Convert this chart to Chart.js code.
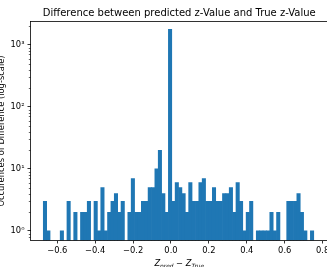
<!DOCTYPE html>
<html>
<head>
<meta charset="utf-8">
<script src="https://cdn.jsdelivr.net/npm/chart.js@4.4.0/dist/chart.umd.min.js"></script>
<style>
  html, body { margin: 0; padding: 0; overflow: hidden; background: #fff; }
  #wrap { position: absolute; left: 0; top: 0; width: 329px; height: 267px; }
</style>
</head>
<body>
<div id="wrap"><canvas id="hist" width="329" height="267"></canvas></div>
<script>
// histogram bins (80 equal bins)
const binStart = -0.6739;
const binWidth = 0.01784;
const counts = [
  3, 1, 0, 0, 0, 1, 0, 3, 0, 2,
  0, 2, 2, 3, 0, 3, 1, 5, 1, 2,
  3, 4, 2, 3, 0, 2, 7, 2, 2, 3,
  3, 5, 5, 10, 20, 4, 2, 1790, 3, 6,
  5, 4, 2, 6, 3, 3, 6, 7, 3, 3,
  5, 3, 3, 4, 4, 5, 2, 6, 3, 1,
  2, 3, 0, 1, 1, 1, 1, 2, 1, 2,
  0, 0, 3, 3, 3, 4, 2, 1, 0, 1
];

const xTicks = [-0.6, -0.4, -0.2, 0, 0.2, 0.4, 0.6, 0.8];
const yTicks = [1, 10, 100, 1000];
const yTickLabels = ["10⁰", "10¹", "10²", "10³"];
const yMinorTicks = [0.8, 0.9, 2, 3, 4, 5, 6, 7, 8, 9, 20, 30, 40, 50, 60, 70, 80, 90,
  200, 300, 400, 500, 600, 700, 800, 900, 2000];

const titleText = "Difference between predicted z-Value and True z-Value";
const yLabelText = "Occurences of Difference (log-scale)";

const xMin = -0.7414, xMax = 0.8285;
const yMin = 0.7304, yMax = 2384;

const points = counts.map((c, i) => ({
  x: binStart + binWidth * (i + 0.5),
  y: c > 0 ? c : null
}));

const fmtX = (v) => {
  if (Math.abs(v) < 1e-9) return "0.0";
  return (v < 0 ? "\u2212" : "") + Math.abs(v).toFixed(1);
};

// matplotlib-like decorations: frame, minor log ticks, title, axis labels
const mplDecor = {
  id: "mplDecor",
  afterDraw(chart) {
    const { ctx, chartArea: a, scales } = chart;
    const y = scales.y;
    ctx.save();
    ctx.strokeStyle = "#000";
    ctx.lineWidth = 0.8;
    ctx.strokeRect(a.left, a.top, a.right - a.left, a.bottom - a.top);

    ctx.lineWidth = 0.6;
    ctx.beginPath();
    yMinorTicks.forEach((v) => {
      const py = Math.round(y.getPixelForValue(v)) + 0.5;
      ctx.moveTo(a.left - 1.7, py);
      ctx.lineTo(a.left, py);
    });
    ctx.stroke();

    ctx.fillStyle = "#000";
    ctx.textBaseline = "alphabetic";
    const cx = (a.left + a.right) / 2;

    ctx.font = '10px "DejaVu Sans"';
    ctx.textAlign = "center";
    ctx.fillText(titleText, cx, a.top - 5.5);

    ctx.save();
    ctx.translate(4, (a.top + a.bottom) / 2);
    ctx.rotate(-Math.PI / 2);
    ctx.font = '8.33px "DejaVu Sans"';
    ctx.fillText(yLabelText, 0, 0);
    ctx.restore();

    // Z_pred − Z_True
    const parts = [
      { t: "Z", f: 'italic 8.33px "DejaVu Sans"', dy: 0 },
      { t: "pred", f: 'italic 5.8px "DejaVu Sans"', dy: 1.6 },
      { t: " \u2212 ", f: '8.33px "DejaVu Sans"', dy: 0 },
      { t: "Z", f: 'italic 8.33px "DejaVu Sans"', dy: 0 },
      { t: "True", f: 'italic 5.8px "DejaVu Sans"', dy: 1.6 }
    ];
    let total = 0;
    parts.forEach((p) => { ctx.font = p.f; p.w = ctx.measureText(p.t).width; total += p.w; });
    let px = cx - total / 2;
    ctx.textAlign = "left";
    const base = 266;
    parts.forEach((p) => {
      ctx.font = p.f;
      ctx.fillText(p.t, px, base + p.dy);
      px += p.w;
    });
    ctx.restore();
  }
};

Chart.defaults.font.family = '"DejaVu Sans"';
Chart.defaults.color = "#000";

new Chart(document.getElementById("hist").getContext("2d"), {
  type: "bar",
  data: {
    datasets: [
      {
        data: points,
        backgroundColor: "#1f77b4",
        borderWidth: 0,
        barPercentage: 1,
        categoryPercentage: 1
      }
    ]
  },
  options: {
    responsive: false,
    animation: false,
    devicePixelRatio: 1,
    layout: { padding: { top: 21.5, right: 1, left: 0, bottom: 0 } },
    plugins: {
      legend: { display: false },
      tooltip: { enabled: false },
      title: { display: false }
    },
    scales: {
      x: {
        type: "linear",
        min: xMin,
        max: xMax,
        offset: false,
        grid: {
          offset: false,
          display: true,
          drawOnChartArea: false,
          drawTicks: true,
          tickLength: 3,
          tickWidth: 0.8,
          tickColor: "#000"
        },
        border: { display: false },
        ticks: {
          autoSkip: false,
          maxRotation: 0,
          padding: 2,
          color: "#000",
          font: { size: 8.33 },
          callback: (v) => fmtX(v)
        },
        afterBuildTicks: (s) => { s.ticks = xTicks.map((v) => ({ value: v })); },
        afterFit: (s) => { s.height = 26.5; s.paddingLeft = 0; s.paddingRight = 0; }
      },
      y: {
        type: "logarithmic",
        min: yMin,
        max: yMax,
        grid: {
          display: true,
          drawOnChartArea: false,
          drawTicks: true,
          tickLength: 3,
          tickWidth: 0.8,
          tickColor: "#000"
        },
        border: { display: false },
        ticks: {
          autoSkip: false,
          padding: 3,
          color: "#000",
          font: { size: 8.33 },
          callback: (v) => {
            const i = yTicks.indexOf(v);
            return i >= 0 ? yTickLabels[i] : "";
          }
        },
        afterBuildTicks: (s) => { s.ticks = yTicks.map((v) => ({ value: v })); },
        afterFit: (s) => { s.width = 30.5; s.paddingTop = 0; s.paddingBottom = 0; }
      }
    }
  },
  plugins: [mplDecor]
});
</script>
</body>
</html>
